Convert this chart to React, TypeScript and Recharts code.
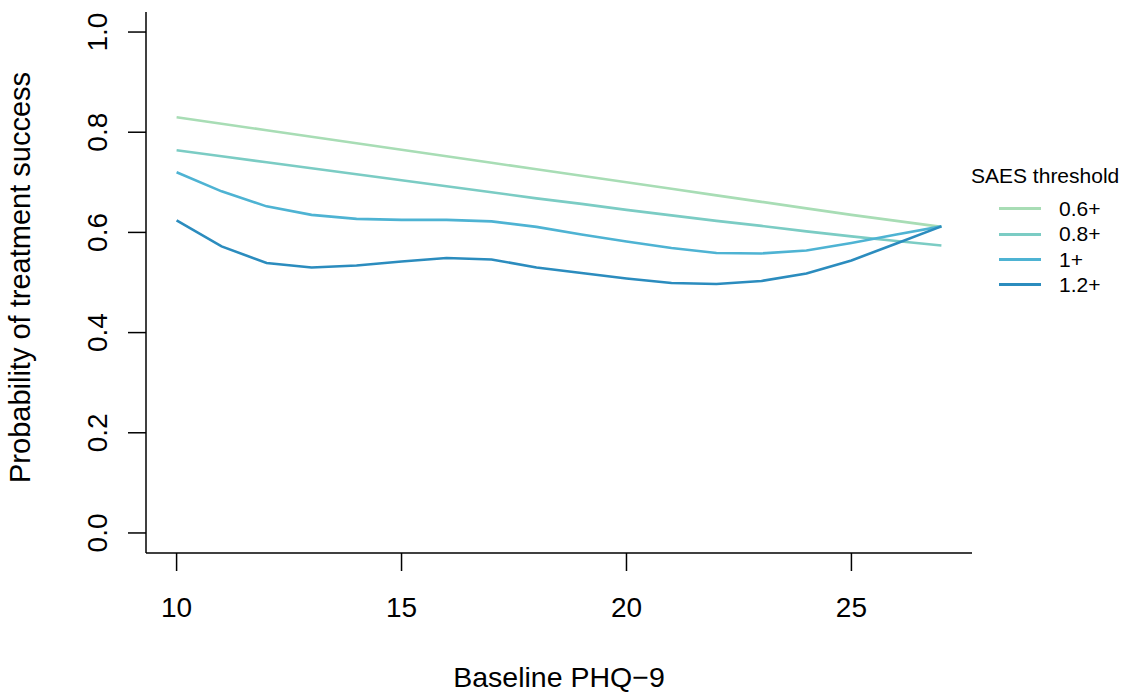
import React from "react";
import { LineChart, Line, XAxis, YAxis, Legend } from "recharts";

const phq = [10, 11, 12, 13, 14, 15, 16, 17, 18, 19, 20, 21, 22, 23, 24, 25, 26, 27];
const s06 = [0.830, 0.817, 0.804, 0.791, 0.778, 0.765, 0.752, 0.739, 0.726, 0.713, 0.700, 0.687, 0.674, 0.661, 0.648, 0.635, 0.623, 0.611];
const s08 = [0.764, 0.752, 0.740, 0.728, 0.716, 0.704, 0.692, 0.680, 0.668, 0.657, 0.645, 0.634, 0.623, 0.613, 0.602, 0.592, 0.583, 0.574];
const s10 = [0.720, 0.682, 0.652, 0.635, 0.627, 0.625, 0.625, 0.622, 0.611, 0.596, 0.582, 0.569, 0.559, 0.558, 0.564, 0.579, 0.596, 0.612];
const s12 = [0.624, 0.572, 0.539, 0.530, 0.534, 0.542, 0.549, 0.546, 0.530, 0.519, 0.508, 0.499, 0.497, 0.503, 0.518, 0.544, 0.578, 0.612];

const seriesKeys = ["s06", "s08", "s10", "s12"];
const seriesNames = ["0.6+", "0.8+", "1+", "1.2+"];
const seriesColors = ["#A8DDB5", "#7BCCC4", "#4EB3D3", "#2B8CBE"];
const xTicks = [10, 15, 20, 25];
const yTicks = [0, 0.2, 0.4, 0.6, 0.8, 1.0];

const data = phq.map((x, i) => ({ x, s06: s06[i], s08: s08[i], s10: s10[i], s12: s12[i] }));

const FONT = "'Liberation Sans', Arial, Helvetica, sans-serif";

const XTick = (props: any) => {
  const { x, y, payload } = props;
  return (
    <text x={x} y={y + 44} textAnchor="middle" fontSize={28} fontFamily={FONT} fill="#000">
      {payload.value}
    </text>
  );
};

const YTick = (props: any) => {
  const { x, y, payload } = props;
  const bx = x - 19;
  return (
    <text x={bx} y={y} transform={`rotate(-90, ${bx}, ${y})`} textAnchor="middle" fontSize={28} fontFamily={FONT} fill="#000">
      {Number(payload.value).toFixed(1)}
    </text>
  );
};

const XTitle = (props: any) => {
  const vb = props.viewBox || {};
  const cx = vb.x + vb.width / 2;
  return (
    <text x={cx} y={vb.y + 134} textAnchor="middle" fontSize={28.5} fontFamily={FONT} fill="#000">
      Baseline PHQ−9
    </text>
  );
};

const YTitle = (props: any) => {
  const vb = props.viewBox || {};
  const bx = vb.x + 30;
  const cy = vb.y + vb.height / 2 - 5;
  return (
    <text x={bx} y={cy} transform={`rotate(-90, ${bx}, ${cy})`} textAnchor="middle" fontSize={29} fontFamily={FONT} fill="#000">
      Probability of treatment success
    </text>
  );
};

const LegendContent = () => (
  <div style={{ position: "relative", width: 170, height: 140, fontFamily: FONT, color: "#000" }}>
    <div style={{ position: "absolute", left: 11, top: 4, fontSize: 21, lineHeight: "24px", whiteSpace: "nowrap" }}>
      SAES threshold
    </div>
    {seriesNames.map((name, i) => {
      const cy = 48.7 + i * 25.4;
      return (
        <React.Fragment key={name}>
          <div style={{ position: "absolute", left: 39, top: cy - 1.5, width: 42, height: 3, background: seriesColors[i] }} />
          <div style={{ position: "absolute", left: 99, top: cy - 12, fontSize: 21, lineHeight: "24px", whiteSpace: "nowrap" }}>
            {name}
          </div>
        </React.Fragment>
      );
    })}
  </div>
);

export default function App() {
  return (
    <div style={{ position: "absolute", left: 0, top: 0, width: 1130, height: 695, background: "#fff" }}>
      <LineChart width={1130} height={695} data={data} margin={{ top: 12, right: 158, bottom: 0, left: 0 }}>
        <XAxis
          dataKey="x"
          type="number"
          domain={[9.32, 27.68]}
          ticks={xTicks}
          allowDataOverflow
          height={142}
          tickSize={18}
          tickMargin={2}
          stroke="#000"
          strokeWidth={1.5}
          tick={<XTick />}
          label={<XTitle />}
        />
        <YAxis
          type="number"
          domain={[-0.04, 1.04]}
          ticks={yTicks}
          allowDataOverflow
          width={146}
          tickSize={18}
          tickMargin={2}
          stroke="#000"
          strokeWidth={1.5}
          tick={<YTick />}
          label={<YTitle />}
        />
        <Legend
          layout="vertical"
          align="center"
          verticalAlign="middle"
          wrapperStyle={{ left: 960, top: 160, width: 170 }}
          content={<LegendContent />}
        />
        {seriesKeys.map((k, i) => (
          <Line
            key={k}
            type="linear"
            dataKey={k}
            name={seriesNames[i]}
            stroke={seriesColors[i]}
            strokeWidth={2.6}
            dot={false}
            isAnimationActive={false}
          />
        ))}
      </LineChart>
    </div>
  );
}
